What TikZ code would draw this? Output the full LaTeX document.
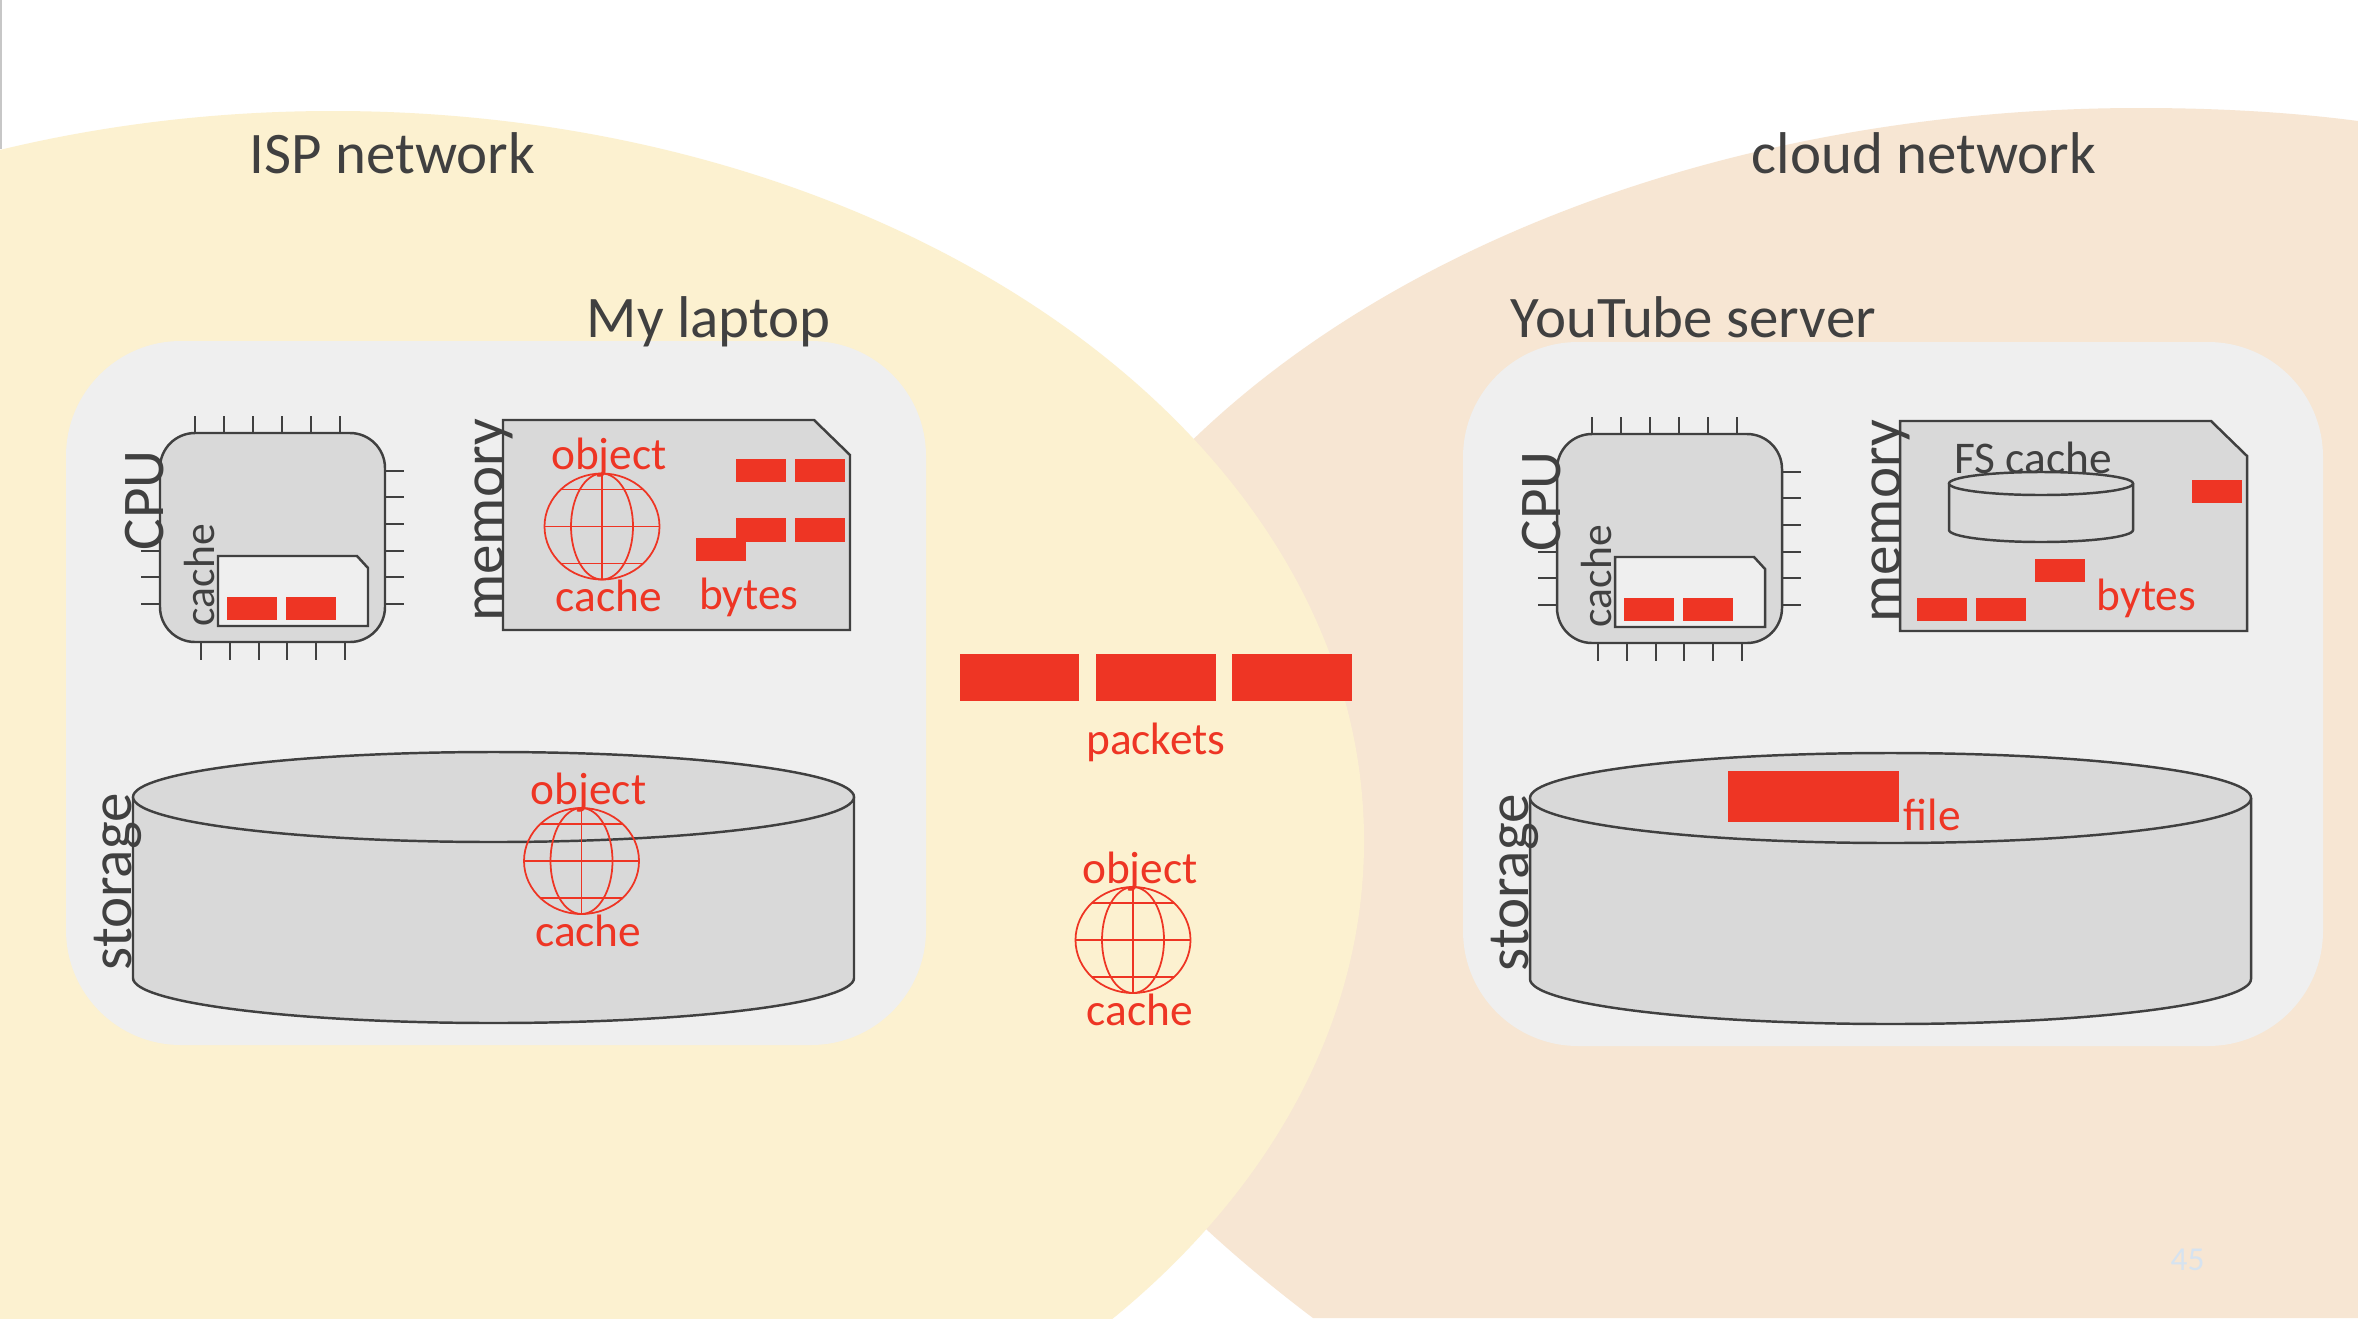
\documentclass[tikz,border=0pt]{standalone}
\usepackage{fontspec}
\setmainfont{Carlito}
\definecolor{ispfill}{HTML}{FCF1D0}
\definecolor{cloudfill}{HTML}{F7E6D3}
\definecolor{hostfill}{HTML}{EFEFEF}
\definecolor{partfill}{HTML}{D9D9D9}
\definecolor{inkgray}{HTML}{404040}
\definecolor{redblock}{HTML}{EE3524}
\definecolor{pagenum}{HTML}{D6E3F0}
\begin{document}
\begin{tikzpicture}[x=0.01cm,y=-0.01cm]
    \tikzstyle{title}=[anchor=base west,inner sep=0pt,text=inkgray,font=\fontsize{16.75pt}{20pt}\selectfont]
    \tikzstyle{side}=[title,rotate=90,font=\fontsize{16.8pt}{20pt}\selectfont]
    \tikzstyle{smallside}=[side,font=\fontsize{12.4pt}{15pt}\selectfont]
    \tikzstyle{redtext}=[anchor=base west,inner sep=0pt,text=redblock,font=\fontsize{12.9pt}{15pt}\selectfont]
    \tikzstyle{part}=[fill=partfill,draw=inkgray,line width=0.7pt]
    \tikzstyle{pin}=[draw=inkgray,line width=0.5pt]
    \tikzstyle{wire}=[draw=redblock,line width=0.5pt]
    \tikzstyle{byteblock}=[rectangle,fill=redblock,inner sep=0pt,minimum width=0.5cm,minimum height=0.235cm]
    \tikzstyle{packetblock}=[byteblock,minimum width=1.195cm,minimum height=0.47cm]

    \path[use as bounding box,clip] (0,0) rectangle (2358,1318);
    \fill[white] (0,0) rectangle (2358,1318);
    \fill[black!22] (0,0) rectangle (2,149);

    % Networks
    \fill[cloudfill] (2358,121) .. controls (2290,112) and (2215,108) .. (2140,108)
        .. controls (1505,108) and (990,451) .. (990,875)
        .. controls (990,1010) and (1130,1180) .. (1313,1318) -- (2358,1318) -- cycle;
    \fill[ispfill] (333,841) ellipse [x radius=1031,y radius=730];

    % Both hosts
    \foreach \dx/\dy/\h in {0/0/L,1397/1/S} {
        \begin{scope}[shift={(\dx,\dy)}]
            \fill[hostfill,rounded corners=1.15cm] (66,341) rectangle (926,1045);

            % CPU pins
            \foreach \x in {195,224,253,282,311,340}
                \draw[pin] (\x,416) -- (\x,433);
            \foreach \x in {201,230,259,287,316,345}
                \draw[pin] (\x,642) -- (\x,660);
            \foreach \y in {471,497,524,551,577,604}
                \draw[pin] (385,\y) -- (404,\y);
            \foreach \y in {551,577,604}
                \draw[pin] (141,\y) -- (160,\y);

            % CPU with its cache
            \draw[part,rounded corners=0.35cm] (160,433) rectangle (385,642);
            \draw[part,fill=hostfill] (218,556) -- (357,556) -- (368,568) -- (368,626) -- (218,626) -- cycle;
            \node[byteblock] (\h-c1) at (252,608.5) {};
            \node[byteblock] (\h-c2) at (311,608.5) {};
            \node[side] (\h-cpu) at (163,551) {CPU};
            \node[smallside] (\h-cache) at (214,627) {cache};

            % Memory
            \draw[part] (503,420) -- (814,420) -- (850,455) -- (850,630) -- (503,630) -- cycle;
            \node[side] (\h-mem) at (503,622.5) {memory};

            % Storage
            \draw[part] (133,797) -- (133,978) arc[start angle=180,end angle=0,x radius=360.5,y radius=45] -- (854,797);
            \draw[part] (493.5,797) ellipse [x radius=360.5,y radius=45];
            \node[side] (\h-disk) at (131,971) {storage};
        \end{scope}
    }

    % Network and host names
    \node[title] (isp) at (249,173.5) {ISP network};
    \node[title] (cloud) at (1751,173.5) {cloud network};
    \node[title] (laptop) at (586,337) {My laptop};
    \node[title] (server) at (1510,337) {YouTube server};

    % Bytes in laptop memory
    \foreach \x/\y/\n in {761/470.5/1,820/470.5/2,761/530/3,820/530/4,721/549.5/5}
        \node[byteblock] (Lb-\n) at (\x,\y) {};
    \node[redtext] (Lbytes) at (698.5,609) {bytes};

    % Server memory
    \node[title,font=\fontsize{12.9pt}{15pt}\selectfont] (fscache) at (1954,473) {FS cache};
    \draw[part] (1949,483.5) -- (1949,530) arc[start angle=180,end angle=0,x radius=92,y radius=12] -- (2133,483.5);
    \draw[part] (2041,483.5) ellipse [x radius=92,y radius=11.5];
    \foreach \x/\y/\n in {2217/491.5/1,2060/570.5/2,1942/609.5/3,2001/609.5/4}
        \node[byteblock] (Sb-\n) at (\x,\y) {};
    \node[redtext] (Sbytes) at (2096,610) {bytes};

    % File on server disk
    \node[byteblock,minimum width=1.71cm,minimum height=0.51cm] (filerect) at (1813.5,796.5) {};
    \node[redtext] (filetext) at (1903,830) {file};

    % Packets
    \foreach \x/\n in {1019.5/1,1156/2,1292/3}
        \node[packetblock] (P-\n) at (\x,677.5) {};
    \node[redtext] (packets) at (1085.5,754) {packets};

    % Web objects
    \foreach \gx/\gy/\g in {602/526.5/A,581.5/861/B,1133/940/C} {
        \begin{scope}[shift={(\gx,\gy)}]
            \draw[wire] (0,0) ellipse [x radius=57.5,y radius=53];
            \draw[wire] (0,0) ellipse [x radius=31,y radius=53];
            \draw[wire] (0,-53) -- (0,53);
            \draw[wire] (-57.5,0) -- (57.5,0);
            \draw[wire] (-41,-37) -- (41,-37);
            \draw[wire] (-41,37) -- (41,37);
            \node[redtext] (obj-\g) at (-51.5,-57) {object};
            \node[redtext] (cache-\g) at (-47,85) {cache};
        \end{scope}
    }

    \node[anchor=base west,inner sep=0pt,text=pagenum,font=\fontsize{9.5pt}{11pt}\selectfont] (pagenum) at (2170,1270) {45};
\end{tikzpicture}
\end{document}
